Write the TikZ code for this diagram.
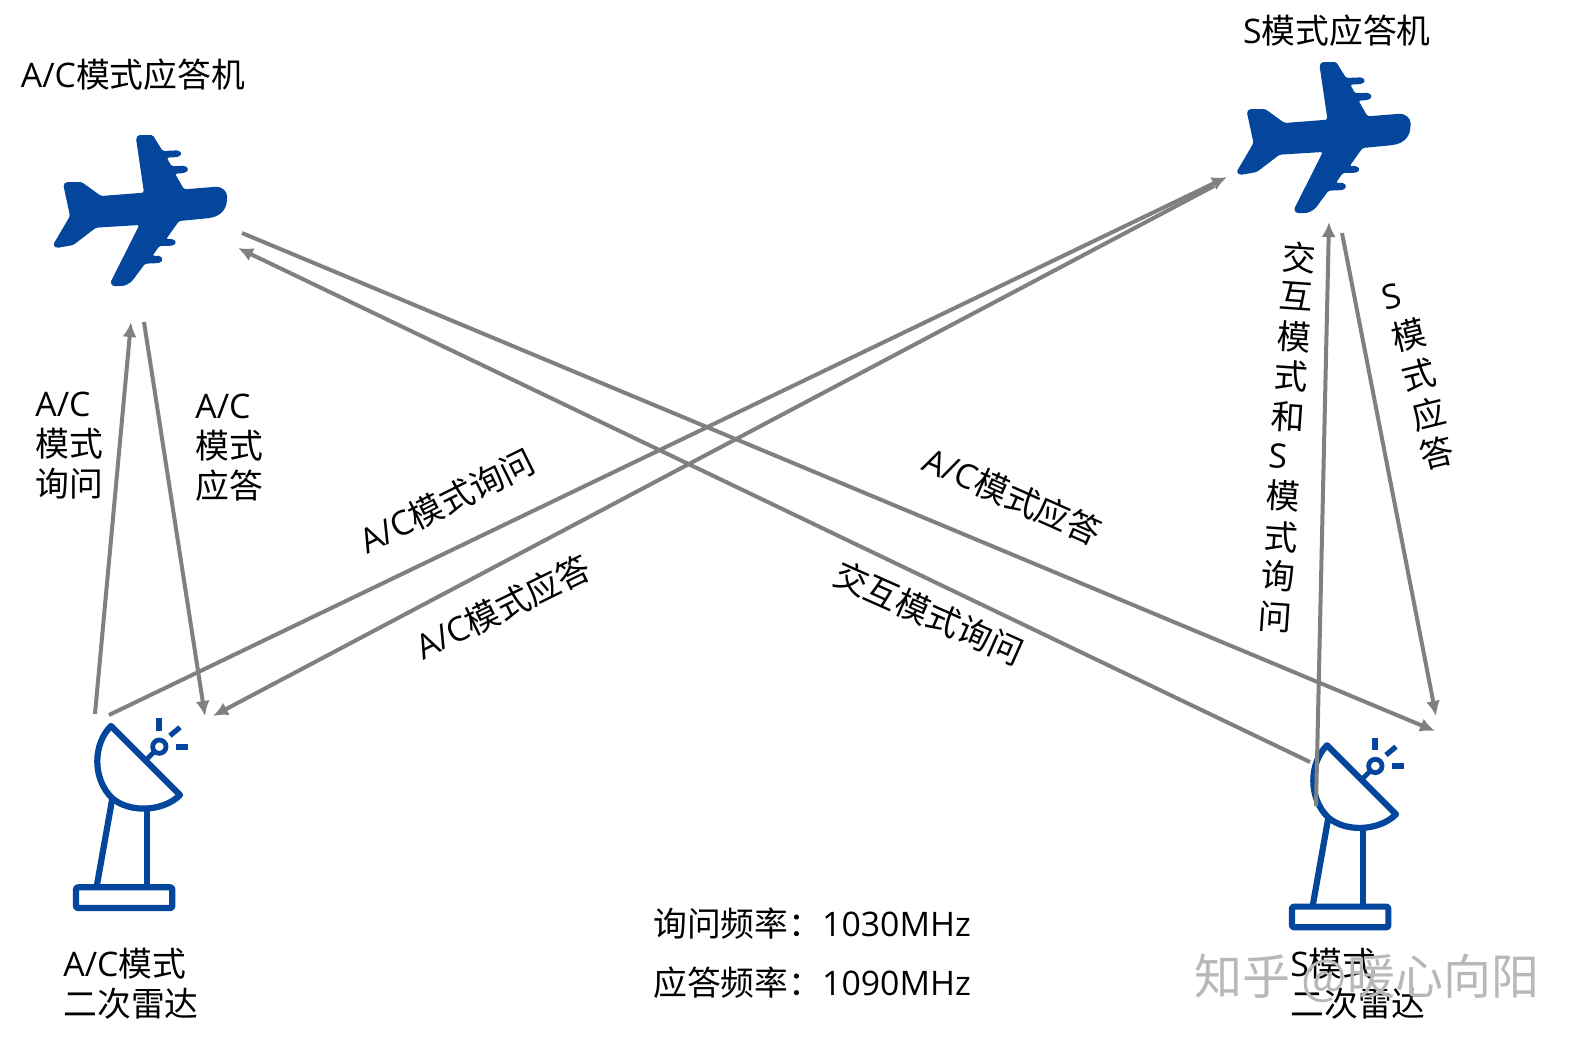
\documentclass[tikz,border=0pt]{standalone}
\usepackage{fontspec}
\setmainfont{Noto Sans CJK SC}
\newfontfamily\latinf{Open Sans}
\newcommand{\lat}[1]{{\latinf #1}}
\definecolor{planeblue}{HTML}{03469C}
\definecolor{arrowgray}{HTML}{808080}
\usetikzlibrary{arrows.meta}
\tikzset{
  lbl/.style={font=\fontsize{16.9}{20}\selectfont,text=black,inner sep=0pt,align=center},
  lblL/.style={lbl,align=left},
  link/.style={draw=arrowgray,line width=2pt,-{Latex[length=7.5pt,width=7pt]}},
  dishline/.style={draw=planeblue,line width=3.1pt,line join=round},
  wmark/.style={font=\fontsize{24}{26}\selectfont,text=black!28,inner sep=0pt},
}
\newcommand{\planeat}[2]{%
\begin{scope}[shift={(#1,#2)},x=0.16667pt,y=-0.16667pt]
\fill[planeblue,rounded corners=0.8pt] (100,225) -- (108,216) -- (155,216) -- (213,258) -- (342,248) -- (318,85) -- (325,75) -- (368,75) -- (398,123) -- (445,121) -- (456,131) -- (445,141) -- (410,143) -- (425,169) -- (465,167) -- (476,178) -- (465,189) -- (435,191) -- (462,238) -- (550,231)
 .. controls (578,229) and (592,245) .. (591,265) .. controls (590,295) and (575,320) .. (530,325)
 -- (447,333) -- (408,388) -- (430,387) -- (439,397) -- (430,407) -- (388,408) -- (367,438) -- (390,437) -- (399,448) -- (390,459) -- (345,461) -- (305,515) -- (285,527) -- (250,529) -- (241,518) -- (328,345) -- (198,353) -- (130,405) -- (80,414) -- (69,405) -- (120,318) -- cycle;
\end{scope}}
\newcommand{\dishat}[2]{%
\begin{scope}[shift={(#1,#2)},x=0.16667pt,y=-0.16667pt]
\draw[dishline] (183,108) -- (390,315) .. controls (340,365) and (240,370) .. (187,325) .. controls (125,265) and (130,160) .. (183,108) -- cycle;
\draw[dishline] (187,325) -- (140,590);
\draw[dishline] (290,360) -- (290,590);
\draw[dishline,rounded corners=1pt] (78,592) rectangle (367,654);
\draw[planeblue,line width=2.4pt] (328,170) circle[radius=20];
\draw[planeblue,line width=2.4pt] (288,210) -- (313,185);
\draw[planeblue,line width=3pt] (328,85) -- (328,122);
\draw[planeblue,line width=2.6pt] (360,137) -- (390,112);
\draw[planeblue,line width=3pt] (378,170) -- (415,170);
\end{scope}}
\begin{document}
\begin{tikzpicture}[x=0.5pt,y=-0.5pt]
\useasboundingbox (0,0) rectangle (1580,1044);
\fill[white] (0,0) rectangle (1580,1044);
\planeat{30}{110}
\planeat{1213.5}{37}
\dishat{50}{690}
\dishat{1266}{709.3}
% free ends
\coordinate (a1) at (95,714);
\coordinate (a2) at (131,322);
\coordinate (b1) at (144,322);
\coordinate (b2) at (205,716);
\coordinate (c1) at (109,715);
\coordinate (c2) at (1227,177);
\coordinate (d1) at (1214,186);
\coordinate (d2) at (213,716);
\coordinate (e1) at (242,233);
\coordinate (e2) at (1435,731);
\coordinate (f1) at (1310,762);
\coordinate (f2) at (238,248);
\coordinate (g1) at (1316,806);
\coordinate (g2) at (1329,222);
\coordinate (h1) at (1342,233);
\coordinate (h2) at (1436,716);
\draw[link] (a1) -- (a2);
\draw[link] (b1) -- (b2);
\draw[link] (c1) -- (c2);
\draw[link] (d1) -- (d2);
\draw[link] (e1) -- (e2);
\draw[link] (f1) -- (f2);
\draw[link] (g1) -- (g2);
\draw[link] (h1) -- (h2);
% labels
\node[lbl] (t1) at (133,75) {\lat{A/C}模式应答机};
\node[lbl] (t2) at (1337,31) {\lat{S}模式应答机};
\node[lblL,anchor=west] (t3) at (35,446) {\lat{A/C}\\模式\\询问};
\node[lblL,anchor=west] (t4) at (195,448) {\lat{A/C}\\模式\\应答};
\node[lbl,rotate=26.5] (t5) at (447,501) {\lat{A/C}模式询问};
\node[lbl,rotate=26] (t6) at (503,607) {\lat{A/C}模式应答};
\node[lbl,rotate=-24] (t7) at (1013,496) {\lat{A/C}模式应答};
\node[lbl,rotate=-24] (t8) at (929,613) {交互模式询问};
\node[lbl,rotate=-4] (v1) at (1299,258) {交};
\node[lbl,rotate=-4] (v2) at (1296,296) {互};
\node[lbl,rotate=-4] (v3) at (1294,337) {模};
\node[lbl,rotate=-4] (v4) at (1291,376) {式};
\node[lbl,rotate=-4] (v5) at (1288,417) {和};
\node[lbl,rotate=-4] (v6) at (1278,456) {\lat{S}};
\node[lbl,rotate=-4] (v7) at (1283,496) {模};
\node[lbl,rotate=-4] (v8) at (1281,537) {式};
\node[lbl,rotate=-4] (v9) at (1278,576) {询};
\node[lbl,rotate=-4] (v10) at (1275,617) {问};
\node[lbl,rotate=14] (s1) at (1392,297) {\lat{S}};
\node[lbl,rotate=14] (s2) at (1409,335) {模};
\node[lbl,rotate=14] (s3) at (1419,375) {式};
\node[lbl,rotate=14] (s4) at (1429,414) {应};
\node[lbl,rotate=14] (s5) at (1437,453) {答};
\node[lbl] (q1) at (812,924) {询问频率：\lat{1030MHz}};
\node[lbl] (q2) at (812,983) {应答频率：\lat{1090MHz}};
\node[lbl,align=left,anchor=west] (r1) at (63,984) {\lat{A/C}模式\\二次雷达};
\node[lbl,align=left,anchor=west] (r2) at (1290,984) {\lat{S}模式\\二次雷达};
\node[wmark,anchor=center] (w1) at (1367,978) {知乎 @暖心向阳};
\end{tikzpicture}
\end{document}
